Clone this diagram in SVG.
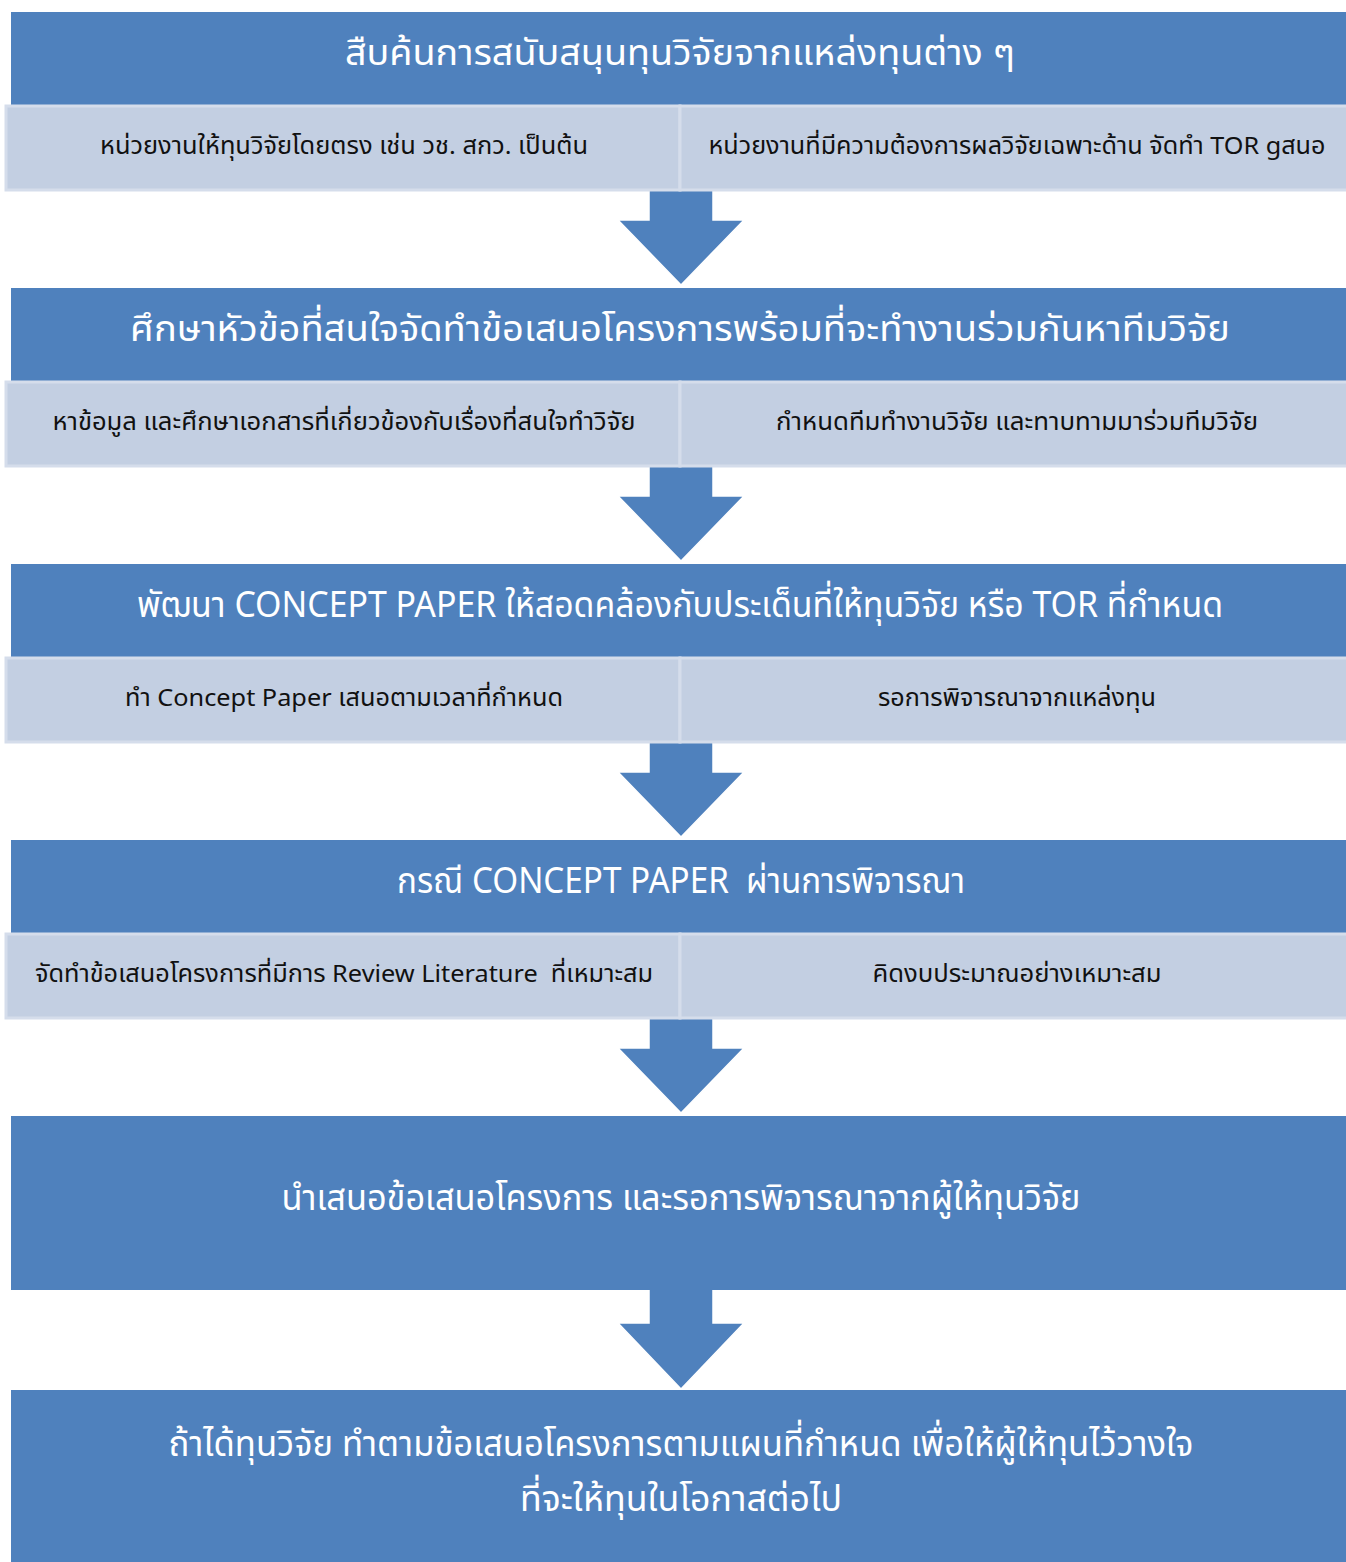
<svg xmlns="http://www.w3.org/2000/svg" width="1346" height="1562" viewBox="0 0 1346 1562">
<style>
.hdr{fill:#4F81BD}
.sub{fill:#C3CFE2;stroke:#D5DDEB;stroke-width:3}
.ht{font-family:"Noto Sans Thai","Noto Sans","DejaVu Sans",sans-serif;font-size:36px;fill:#FFFFFF;text-anchor:middle}
.st{font-family:"Noto Sans Thai","Noto Sans","DejaVu Sans",sans-serif;font-size:24px;fill:#111111;text-anchor:middle}
.arr{fill:#4F81BD;stroke:#FFFFFF;stroke-width:1.5;stroke-linejoin:miter}
</style>
<rect width="1346" height="1562" fill="#FFFFFF"/>
<g id="connectors">
<path class="arr" d="M649,180 H713 V220 H744 L681,285 L618,220 H649 Z"/>
<path class="arr" d="M649,456 H713 V496 H744 L681,561 L618,496 H649 Z"/>
<path class="arr" d="M649,732 H713 V772 H744 L681,837 L618,772 H649 Z"/>
<path class="arr" d="M649,1008 H713 V1048 H744 L681,1113 L618,1048 H649 Z"/>
<path class="arr" d="M649,1285 H713 V1323 H744 L681,1389 L618,1323 H649 Z"/>
</g>
<g id="step1">
<rect class="hdr" x="11" y="12" width="1345" height="93"/>
<text class="ht" x="680" y="65" textLength="670" lengthAdjust="spacingAndGlyphs">สืบค้นการสนับสนุนทุนวิจัยจากแหล่งทุนต่าง ๆ</text>
</g>
<g id="step1a">
<rect class="sub" x="6" y="106" width="674" height="84"/>
<text class="st" x="344" y="154" textLength="488" lengthAdjust="spacingAndGlyphs">หน่วยงานให้ทุนวิจัยโดยตรง เช่น วช. สกว. เป็นต้น</text>
</g>
<g id="step1b">
<rect class="sub" x="680" y="106" width="676" height="84"/>
<text class="st" x="1017" y="154" textLength="617" lengthAdjust="spacingAndGlyphs">หน่วยงานที่มีความต้องการผลวิจัยเฉพาะด้าน จัดทำ TOR gสนอ</text>
</g>
<g id="step2">
<rect class="hdr" x="11" y="288" width="1345" height="93"/>
<text class="ht" x="680" y="341" textLength="1100" lengthAdjust="spacingAndGlyphs">ศึกษาหัวข้อที่สนใจจัดทำข้อเสนอโครงการพร้อมที่จะทำงานร่วมกันหาทีมวิจัย</text>
</g>
<g id="step2a">
<rect class="sub" x="6" y="382" width="674" height="84"/>
<text class="st" x="344" y="430" textLength="583" lengthAdjust="spacingAndGlyphs">หาข้อมูล และศึกษาเอกสารที่เกี่ยวข้องกับเรื่องที่สนใจทำวิจัย</text>
</g>
<g id="step2b">
<rect class="sub" x="680" y="382" width="676" height="84"/>
<text class="st" x="1017" y="430" textLength="482" lengthAdjust="spacingAndGlyphs">กำหนดทีมทำงานวิจัย และทาบทามมาร่วมทีมวิจัย</text>
</g>
<g id="step3">
<rect class="hdr" x="11" y="564" width="1345" height="93"/>
<text class="ht" x="680" y="617" textLength="1086" lengthAdjust="spacingAndGlyphs">พัฒนา CONCEPT PAPER ให้สอดคล้องกับประเด็นที่ให้ทุนวิจัย หรือ TOR ที่กำหนด</text>
</g>
<g id="step3a">
<rect class="sub" x="6" y="658" width="674" height="84"/>
<text class="st" x="344" y="706" textLength="438" lengthAdjust="spacingAndGlyphs">ทำ Concept Paper เสนอตามเวลาที่กำหนด</text>
</g>
<g id="step3b">
<rect class="sub" x="680" y="658" width="676" height="84"/>
<text class="st" x="1017" y="706" textLength="278" lengthAdjust="spacingAndGlyphs">รอการพิจารณาจากแหล่งทุน</text>
</g>
<g id="step4">
<rect class="hdr" x="11" y="840" width="1345" height="93"/>
<text class="ht" x="681" y="893" textLength="568" lengthAdjust="spacingAndGlyphs" xml:space="preserve">กรณี CONCEPT PAPER  ผ่านการพิจารณา</text>
</g>
<g id="step4a">
<rect class="sub" x="6" y="934" width="674" height="84"/>
<text class="st" x="344" y="982" textLength="618" lengthAdjust="spacingAndGlyphs" xml:space="preserve">จัดทำข้อเสนอโครงการที่มีการ Review Literature  ที่เหมาะสม</text>
</g>
<g id="step4b">
<rect class="sub" x="680" y="934" width="676" height="84"/>
<text class="st" x="1017" y="982" textLength="289" lengthAdjust="spacingAndGlyphs">คิดงบประมาณอย่างเหมาะสม</text>
</g>
<g id="step5">
<rect class="hdr" x="11" y="1116" width="1345" height="174"/>
<text class="ht" x="681" y="1210" textLength="799" lengthAdjust="spacingAndGlyphs">นำเสนอข้อเสนอโครงการ และรอการพิจารณาจากผู้ให้ทุนวิจัย</text>
</g>
<g id="step6">
<rect class="hdr" x="11" y="1390" width="1345" height="180"/>
<text class="ht" x="681" y="1456" textLength="1025" lengthAdjust="spacingAndGlyphs">ถ้าได้ทุนวิจัย ทำตามข้อเสนอโครงการตามแผนที่กำหนด เพื่อให้ผู้ให้ทุนไว้วางใจ</text>
<text class="ht" x="681" y="1511" textLength="322" lengthAdjust="spacingAndGlyphs">ที่จะให้ทุนในโอกาสต่อไป</text>
</g>
</svg>
